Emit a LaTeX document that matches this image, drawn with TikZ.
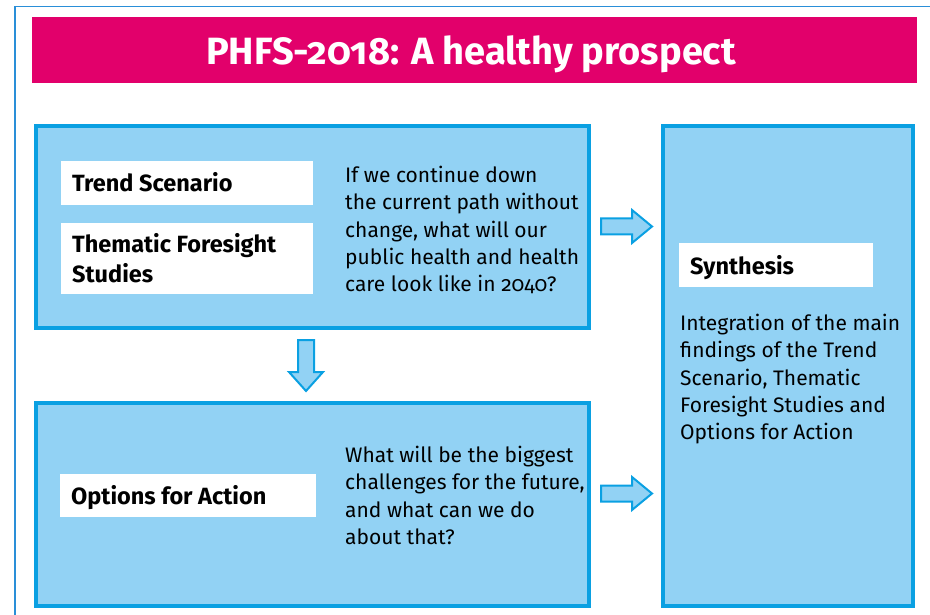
\documentclass[tikz,border=0pt]{standalone}
\usepackage{fontspec}
\setmainfont{Fira Sans}[Numbers=OldStyle, RawFeature=+onum]
\definecolor{mag}{HTML}{E2006B}
\definecolor{bblue}{HTML}{0AA0E2}
\definecolor{lblue}{HTML}{92D2F4}
\definecolor{frame}{HTML}{2A8FD8}
\tikzset{
  panel/.style={draw=bblue, line width=3.5pt, fill=lblue},
  lbl/.style={anchor=base west, inner sep=0pt, font=\fontsize{23.5}{30}\selectfont\bfseries},
  body/.style={anchor=north west, inner sep=0pt, align=left, font=\fontsize{21}{27.3}\selectfont},
  blockarrow/.style={draw=bblue, line width=2pt, fill=lblue, line join=miter},
}
\begin{document}
\begin{tikzpicture}[x=1pt,y=-1pt]
\useasboundingbox (0,0) rectangle (930,615);
\draw[frame, line width=1.6pt] (15,640) -- (15,6.5) -- (960,6.5);
% title
\node[fill=mag, minimum width=885pt, minimum height=66pt, inner sep=0pt, anchor=north west] (title) at (32,17) {};
\node[text=white, font=\fontsize{38}{44}\selectfont\bfseries, inner sep=0pt, anchor=base] (titletext) at (471,65) {PHFS-2018: A healthy prospect};
% panels
\draw[panel] (36,126) rectangle (589,328);
\draw[panel] (36,403) rectangle (589,606);
\draw[panel] (663,126) rectangle (913,606);
% labels
\fill[white] (61,161) rectangle (313,205);
\node[lbl] (ts) at (72,192) {Trend Scenario};
\fill[white] (61,223) rectangle (313,294);
\node[lbl] (tfs1) at (72,252) {Thematic Foresight};
\node[lbl] (tfs2) at (72,282) {Studies};
\fill[white] (60,474) rectangle (316,517);
\node[lbl] (ofa) at (71,504) {Options for Action};
\fill[white] (679,243) rectangle (873,287);
\node[lbl] (sy) at (690,274) {Synthesis};
% body texts
\node[body] (q1) at (345,166) {If we continue down\\the current path without\\change, what will our\\public health and health\\care look like in 2040?};
\node[body] (q2) at (345,446) {What will be the biggest\\challenges for the future,\\and what can we do\\about that?};
\node[body] (q3) at (680,314) {Integration of the main\\findings of the Trend\\Scenario, Thematic\\Foresight Studies and\\Options for Action};
% block arrows
\draw[blockarrow] (601,218.5) -- (632,218.5) -- (632,210) -- (652,226.5) -- (632,243) -- (632,234.5) -- (601,234.5) -- cycle;
\draw[blockarrow] (601,485.5) -- (632,485.5) -- (632,477) -- (652,493.5) -- (632,510) -- (632,501.5) -- (601,501.5) -- cycle;
\draw[blockarrow] (298,340) -- (314,340) -- (314,372) -- (323,372) -- (306,391) -- (289,372) -- (298,372) -- cycle;
\end{tikzpicture}
\end{document}
